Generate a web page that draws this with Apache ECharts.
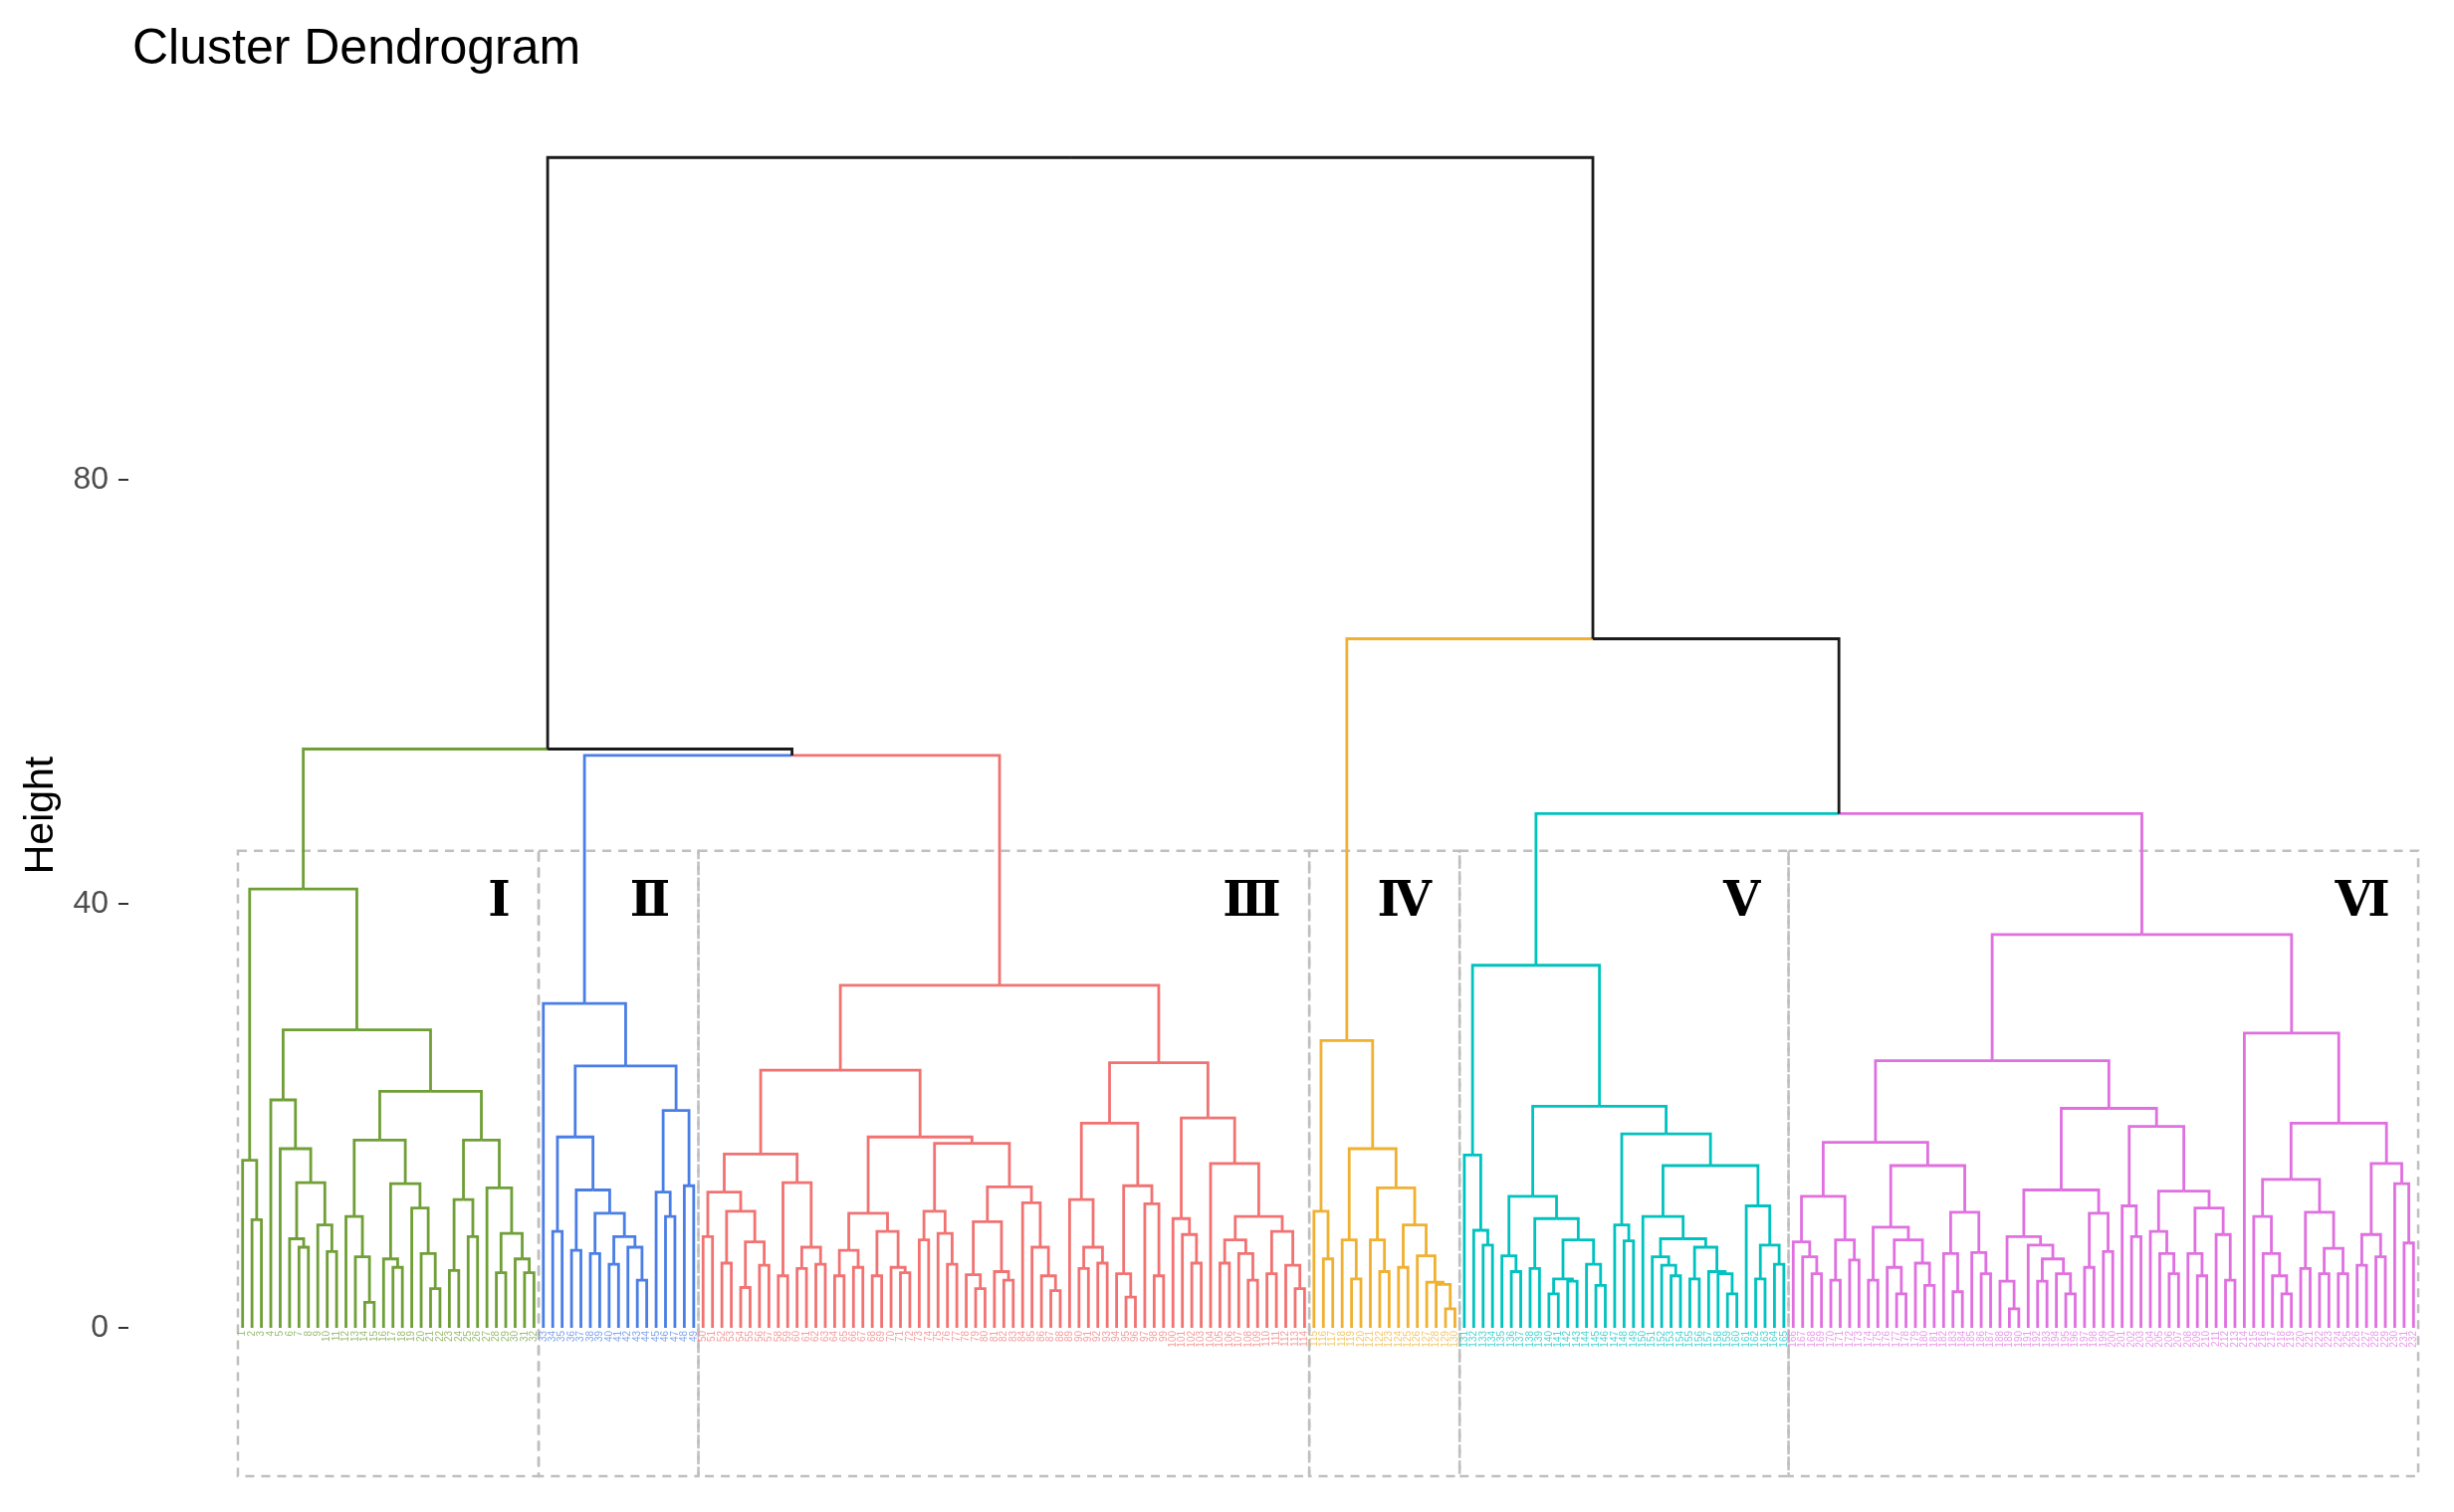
<!DOCTYPE html>
<html>
<head>
<meta charset="utf-8">
<script src="https://cdn.jsdelivr.net/npm/echarts@6/dist/echarts.min.js"></script>
<style>html,body{margin:0;padding:0;background:#fff}#c{width:2465px;height:1519px}</style>
</head>
<body>
<div id="c"></div>
<script>
// ---------- data (heights; 0 = a leaf) ----------
const clusterKeys = ['I', 'II', 'III', 'IV', 'V', 'VI'];
const clusterNumerals = ['Ⅰ', 'Ⅱ', 'Ⅲ', 'Ⅳ', 'Ⅴ', 'Ⅵ'];
const clusterColors = ['#6F9F36', '#4A7EE6', '#F27272', '#F0B030', '#00C2BF', '#E06FE0'];

const clusterI = [41.4,
  [15.8, 0, [10.2, 0, 0]],
  [28.1,
    [21.5, 0, [16.9, 0, [13.7, [8.4, 0, [7.6, 0, 0]], [9.7, 0, [7.2, 0, 0]]]]],
    [22.3,
      [17.7,
        [10.5, 0, [6.7, 0, [2.4, 0, 0]]],
        [13.6, [6.5, 0, [5.7, 0, 0]], [11.3, 0, [7.0, 0, [3.7, 0, 0]]]]],
      [17.7,
        [12.1, [5.4, 0, 0], [8.6, 0, 0]],
        [13.2, 0, [8.9, [5.2, 0, 0], [6.5, 0, [5.2, 0, 0]]]]]]]];

const clusterII = [30.6, 0,
  [24.7,
    [18.0,
      [9.1, 0, 0],
      [13.0, [7.3, 0, 0], [10.8, [7.0, 0, 0], [8.6, [6.0, 0, 0], [7.6, 0, [4.5, 0, 0]]]]]],
    [20.5, [12.8, 0, [10.5, 0, 0]], [13.4, 0, 0]]]];

const clusterIII = [32.3,
  [24.3,
    [16.4,
      [12.8, [8.6, 0, 0], [11.0, [6.1, 0, 0], [8.1, [3.8, 0, 0], [5.9, 0, 0]]]],
      [13.7, [4.9, 0, 0], [7.6, [5.6, 0, 0], [6.0, 0, 0]]]],
    [18.0,
      [10.8, [7.3, [4.9, 0, 0], [5.7, 0, 0]], [9.1, [4.9, 0, 0], [5.7, 0, [5.2, 0, 0]]]],
      [17.4,
        [11.0, [8.3, 0, 0], [8.9, 0, [6.0, 0, 0]]],
        [13.3,
          [10.0, [5.0, 0, [3.7, 0, 0]], [5.3, 0, [4.5, 0, 0]]],
          [11.8, 0, [7.6, 0, [4.9, 0, [3.5, 0, 0]]]]]]]],
  [25.0,
    [19.3,
      [12.1, 0, [7.6, [5.6, 0, 0], [6.1, 0, 0]]],
      [13.4, [5.1, 0, [2.9, 0, 0]], [11.7, 0, [4.9, 0, 0]]]],
    [19.8,
      [10.3, 0, [8.8, 0, [6.1, 0, 0]]],
      [15.5, 0,
        [10.5,
          [8.3, [6.1, 0, 0], [7.0, 0, [4.5, 0, 0]]],
          [9.1, [5.1, 0, 0], [5.9, 0, [3.7, 0, 0]]]]]]]];

const clusterIV = [27.1,
  [11.0, 0, [6.5, 0, 0]],
  [16.9,
    [8.3, 0, [4.6, 0, 0]],
    [13.2,
      [8.3, 0, [5.3, 0, 0]],
      [9.7, [5.7, 0, 0], [6.8, 0, [4.3, 0, [4.1, 0, [1.8, 0, 0]]]]]]]];

const clusterV = [34.2,
  [16.3, 0, [9.2, 0, [7.8, 0, 0]]],
  [20.9,
    [12.4,
      [6.8, 0, [5.3, 0, 0]],
      [10.3,
        [5.6, 0, 0],
        [8.3, [4.6, [3.2, 0, 0], [4.4, 0, 0]], [6.0, 0, [4.0, 0, 0]]]]],
    [18.3,
      [9.7, 0, [8.2, 0, 0]],
      [15.3,
        [10.5, 0,
          [8.4,
            [6.7, 0, [5.9, 0, [4.9, 0, 0]]],
            [7.6, [4.6, 0, 0], [5.3, 0, [5.1, 0, [3.2, 0, 0]]]]]],
        [11.5, 0, [7.8, [4.6, 0, 0], [6.0, 0, 0]]]]]]];

const clusterVI = [37.1,
  [25.2,
    [17.5,
      [12.4,
        [8.1, 0, [6.7, 0, [5.1, 0, 0]]],
        [8.3, [4.5, 0, 0], [6.4, 0, 0]]],
      [15.3,
        [9.5, [4.5, 0, 0], [8.3, [5.7, 0, [3.2, 0, 0]], [6.1, 0, [4.0, 0, 0]]]],
        [10.9, [7.0, 0, [3.4, 0, 0]], [7.1, 0, [5.1, 0, 0]]]]],
    [20.7,
      [13.0,
        [8.6, [4.4, 0, [1.8, 0, 0]], [7.8, 0, [6.5, [4.4, 0, 0], [5.1, 0, [3.2, 0, 0]]]]],
        [10.8, [5.7, 0, 0], [7.2, 0, 0]]],
      [19.0,
        [11.5, 0, [8.6, 0, 0]],
        [12.9,
          [9.1, 0, [7.0, 0, [5.1, 0, 0]]],
          [11.3, [7.0, 0, [4.9, 0, 0]], [8.8, 0, [4.5, 0, 0]]]]]]],
  [27.8, 0,
    [19.3,
      [14.0,
        [10.5, 0, [7.0, 0, [4.9, 0, [3.2, 0, 0]]]],
        [10.9, [5.6, 0, 0], [7.5, [5.1, 0, 0], [5.1, 0, 0]]]],
      [15.5,
        [8.8, [5.9, 0, 0], [6.7, 0, 0]],
        [13.6, 0, [8.0, 0, 0]]]]]];

const clusterTrees = [clusterI, clusterII, clusterIII, clusterIV, clusterV, clusterVI];
// merges above the six clusters
const topTree = [110.4, [54.6, 'I', [54.0, 'II', 'III']], [65.0, 'IV', [48.5, 'V', 'VI']]];

const boxTop = 45, boxBottom = -14;   // dashed cluster boxes (height units)
const numeralHeight = 40;
const yTicks = [0, 40, 80];

// ---------- layout of the tree into segments ----------
let leafCount = 0;
const edges = [];   // [parentX, parentH, childX, childH, colorIndex]
const leaves = [];  // [x, colorIndex, label]
const ranges = [];  // [firstLeaf, lastLeaf, clusterIndex]
function place(node, ci) {
  if (typeof node === 'string') {
    const idx = clusterKeys.indexOf(node);
    const start = leafCount + 1;
    const r = place(clusterTrees[idx], idx);
    ranges.push([start, leafCount, idx]);
    return r;
  }
  if (node === 0) {
    leafCount++;
    leaves.push([leafCount, ci, String(leafCount)]);
    return {x: leafCount, h: 0, ci: ci};
  }
  const h = node[0];
  const kids = [place(node[1], ci), place(node[2], ci)];
  const x = (kids[0].x + kids[1].x) / 2;
  kids.forEach(k => edges.push([x, h, k.x, k.h, k.ci]));
  return {x: x, h: h, ci: ci};
}
place(topTree, -1);

const boxes = ranges.map(r => [r[0] - 0.5, boxTop, r[1] + 0.5, boxBottom, r[2]]);
const numerals = ranges.map(r => [r[1] + 0.5 - 3.0, numeralHeight, r[2]]);

function colorOf(i) { return i < 0 ? '#1a1a1a' : clusterColors[i]; }

const FONT = 'Liberation Sans, Arial, sans-serif';
const chart = echarts.init(document.getElementById('c'), null, {renderer: 'canvas'});
chart.setOption({
  animation: false,
  backgroundColor: '#ffffff',
  title: {
    text: 'Cluster Dendrogram', left: 128, top: 20,
    textStyle: {fontSize: 50, fontWeight: 'normal', color: '#000', fontFamily: FONT}
  },
  graphic: [{
    type: 'text', x: 42, y: 819, rotation: Math.PI / 2, silent: true,
    style: {text: 'Height', align: 'center', verticalAlign: 'middle', fontSize: 41, fill: '#000', fontFamily: FONT}
  }],
  grid: {left: 129, top: 56, width: 2326, height: 1459, containLabel: false},
  xAxis: {type: 'value', min: -11.15, max: 235.25, show: false},
  yAxis: {
    type: 'value', min: -17, max: 120,
    axisLine: {show: false, onZero: false},
    splitLine: {show: false},
    axisTick: {show: true, customValues: yTicks, length: 10, lineStyle: {color: '#333', width: 2}},
    axisLabel: {customValues: yTicks, margin: 20, fontSize: 32, color: '#4d4d4d', fontFamily: FONT}
  },
  series: [
    {
      type: 'custom', name: 'boxes', silent: true, z: 1,
      data: boxes,
      renderItem: function (params, api) {
        const p0 = api.coord([api.value(0), api.value(1)]);
        const p1 = api.coord([api.value(2), api.value(3)]);
        return {type: 'rect', shape: {x: p0[0], y: p0[1], width: p1[0] - p0[0], height: p1[1] - p0[1]},
          style: {fill: null, stroke: '#bfbfbf', lineWidth: 2.5, lineDash: [9, 7]}};
      }
    },
    {
      type: 'custom', name: 'branches', silent: true, z: 3,
      data: edges,
      renderItem: function (params, api) {
        const a = api.coord([api.value(0), api.value(1)]);
        const b = api.coord([api.value(2), api.value(1)]);
        const c = api.coord([api.value(2), api.value(3)]);
        return {type: 'polyline', shape: {points: [a, b, c]},
          style: {fill: null, stroke: colorOf(api.value(4)), lineWidth: 2.8, lineJoin: 'miter'}};
      }
    },
    {
      type: 'custom', name: 'leafLabels', silent: true, z: 2,
      data: leaves,
      renderItem: function (params, api) {
        const p = api.coord([api.value(0), 0]);
        return {type: 'text', x: p[0], y: p[1] + 3, rotation: Math.PI / 2,
          style: {text: leaves[params.dataIndex][2], align: 'right', verticalAlign: 'middle',
            fontSize: 10, fill: colorOf(api.value(1)), opacity: 0.7, fontFamily: FONT}};
      }
    },
    {
      type: 'custom', name: 'numerals', silent: true, z: 4,
      data: numerals,
      renderItem: function (params, api) {
        const p = api.coord([api.value(0), api.value(1)]);
        return {type: 'text', x: p[0], y: p[1],
          style: {text: clusterNumerals[api.value(2)], align: 'right', verticalAlign: 'middle',
            fontSize: 48, fontWeight: 'bold', fill: '#000', fontFamily: 'DejaVu Serif, Noto Sans CJK SC, serif'}};
      }
    }
  ]
});
</script>
</body>
</html>
